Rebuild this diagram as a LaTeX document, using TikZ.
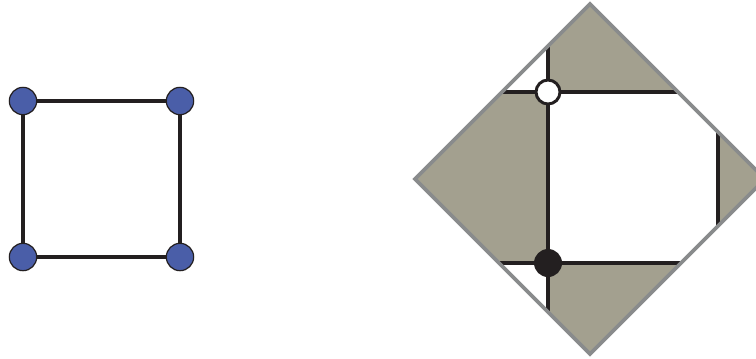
\documentclass[tikz,border=0pt]{standalone}
\usepackage{xcolor}
\usepackage{tikz}
\definecolor{ink}{RGB}{35,31,32}
\definecolor{vblue}{RGB}{74,94,168}
\definecolor{sand}{RGB}{163,160,143}
\definecolor{rim}{RGB}{137,139,140}
\begin{document}
\begin{tikzpicture}[
  x=0.75pt,y=-0.75pt,
  edge/.style={draw=ink,line width=3pt},
  vert/.style={circle,draw=ink,line width=0.9pt,fill=vblue,minimum size=20.5pt,inner sep=0pt},
  hole/.style={circle,draw=ink,line width=2.2pt,fill=white,minimum size=18pt,inner sep=0pt},
  dot/.style={circle,fill=ink,minimum size=21pt,inner sep=0pt}
]
  \useasboundingbox (0,0) rectangle (756,358);

  % square graph
  \node[vert] (v1) at (23,101) {};
  \node[vert] (v2) at (180,101) {};
  \node[vert] (v3) at (23,257) {};
  \node[vert] (v4) at (180,257) {};
  \draw[edge] (v1) -- (v2) (v2) -- (v4) (v4) -- (v3) (v3) -- (v1);

  % diamond
  \coordinate (dT) at (590,4);
  \coordinate (dR) at (765,179);
  \coordinate (dB) at (590,354);
  \coordinate (dL) at (415,179);
  \fill[sand] (dT) -- (dR) -- (dB) -- (dL) -- cycle;
  \begin{scope}
    \clip (dT) -- (dR) -- (dB) -- (dL) -- cycle;
    \fill[white] (400,0) rectangle (548,92);
    \fill[white] (400,263) rectangle (548,360);
    \fill[white] (548,92) rectangle (718,263);
  \end{scope}

  \node[hole] (w) at (548,92) {};
  \node[dot] (b) at (548,263) {};
  \coordinate (uT) at (548,46);
  \coordinate (uB) at (548,312);
  \coordinate (hL) at (502,92);
  \coordinate (hR) at (678,92);
  \coordinate (lL) at (499,263);
  \coordinate (lR) at (681,263);
  \coordinate (rT) at (718,132);
  \coordinate (rB) at (718,226);
  \draw[edge] (uT) -- (w) (w) -- (b) (b) -- (uB);
  \draw[edge] (hL) -- (w) (w) -- (hR);
  \draw[edge] (lL) -- (b) (b) -- (lR);
  \draw[edge] (rT) -- (rB);
  \draw[rim,line width=2.7pt] (dT) -- (dR) -- (dB) -- (dL) -- cycle;
\end{tikzpicture}
\end{document}
